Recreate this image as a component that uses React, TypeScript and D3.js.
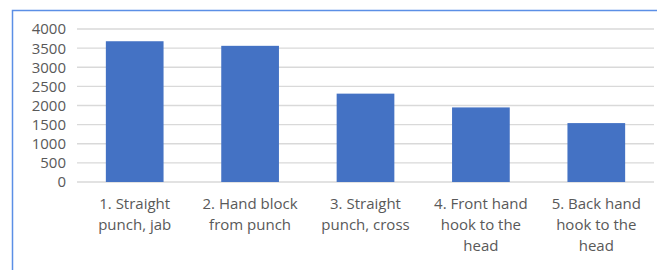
import React from "react";
import * as d3 from "d3";

const categories = [
  ["1. Straight", "punch, jab"],
  ["2. Hand block", "from punch"],
  ["3. Straight", "punch, cross"],
  ["4. Front hand", "hook to the", "head"],
  ["5. Back hand", "hook to the", "head"],
];
const values = [3680, 3560, 2310, 1950, 1540];
const yTicks = [0, 500, 1000, 1500, 2000, 2500, 3000, 3500, 4000];

const W = 657;
const H = 270;
const FONT = "'Open Sans', sans-serif";

export default function App() {
  const x = d3
    .scaleBand<number>()
    .domain(d3.range(values.length))
    .range([77, 654])
    .paddingInner(0.5)
    .paddingOuter(0.25);
  const y = d3.scaleLinear().domain([0, 4000]).range([182, 29]);

  return (
    <div style={{ position: "absolute", left: 0, top: 0 }}>
      <svg width={W} height={H} style={{ display: "block", background: "#fff" }}>
        <rect x={12.5} y={10.5} width={700} height={400} fill="#fff" stroke="#5b8fe6" strokeWidth={1.5} />
        {yTicks.map((t) => (
          <g key={t}>
            <line x1={77} x2={654} y1={y(t)} y2={y(t)} stroke="#d9d9d9" strokeWidth={1.3} />
            <text
              x={66}
              y={y(t)}
              dy="0.36em"
              textAnchor="end"
              fontFamily={FONT}
              fontSize={15}
              fill="#595959"
            >
              {t}
            </text>
          </g>
        ))}
        {values.map((v, i) => (
          <rect
            key={i}
            x={x(i)}
            y={y(v)}
            width={x.bandwidth()}
            height={y(0) - y(v)}
            fill="#4472c4"
          />
        ))}
        {categories.map((lines, i) => (
          <text
            key={i}
            textAnchor="middle"
            fontFamily={FONT}
            fontSize={15}
            fill="#595959"
          >
            {lines.map((l, j) => (
              <tspan key={j} x={(x(i) as number) + x.bandwidth() / 2} y={204 + j * 21} dy="0.36em">
                {l}
              </tspan>
            ))}
          </text>
        ))}
      </svg>
    </div>
  );
}
